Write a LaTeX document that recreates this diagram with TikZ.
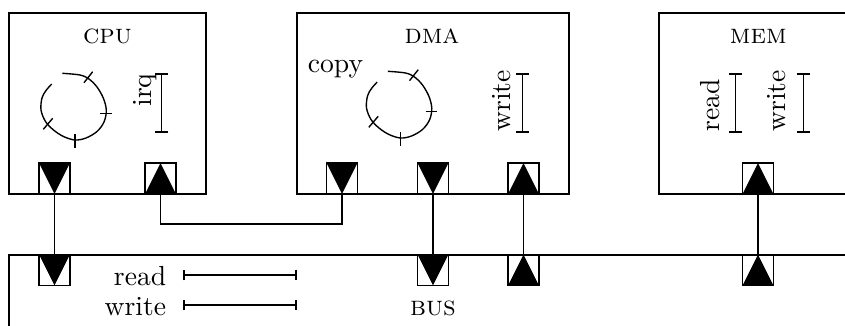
\documentclass[tikz,border=0pt]{standalone}
\usetikzlibrary{arrows.meta}
\begin{document}
\begin{tikzpicture}[x=0.3623pt,y=-0.3623pt,
  unitbox/.style={draw, line width=0.5pt},
  portbox/.style={draw, line width=0.5pt, minimum size=11.2pt, inner sep=0pt, outer sep=0pt},
  portdown/.style={portbox, path picture={\fill (path picture bounding box.north west) -- (path picture bounding box.north east) -- (path picture bounding box.south) -- cycle;}},
  portup/.style={portbox, path picture={\fill (path picture bounding box.south west) -- (path picture bounding box.south east) -- (path picture bounding box.north) -- cycle;}},
  wire/.style={line width=0.5pt},
  vbar/.style={{Bar[width=4.8pt]}-{Bar[width=4.8pt]}, line width=0.5pt},
  hbar/.style={{Bar[width=3.9pt]}-{Bar[width=3.9pt]}, line width=0.5pt},
  title/.style={inner sep=0pt, anchor=base, font=\scshape},
  rlbl/.style={inner sep=0pt, rotate=90}
]
\clip (0,0) rectangle (845,325);
% boxes
\draw[unitbox] (9,13) rectangle (206,194);
\draw[unitbox] (297,13) rectangle (569,194);
\draw[unitbox] (659,13) rectangle (880,194);
\draw[unitbox] (9,255) rectangle (880,345);
% titles
\node[title] (tcpu) at (107.5,43) {cpu};
\node[title] (tdma) at (432,43) {dma};
\node[title] (tmem) at (758.3,43) {mem};
\node[title] (tbus) at (433,315) {bus};
% ports
\node[portdown] (cpu1) at (54.5,178.5) {};
\node[portup]   (cpu2) at (160.5,178.5) {};
\node[portdown] (dma1) at (342,178.5) {};
\node[portdown] (dma2) at (433,178.5) {};
\node[portup]   (dma3) at (523.5,178.5) {};
\node[portup]   (mem1) at (758,178.5) {};
\node[portdown] (bus1) at (54.5,270) {};
\node[portdown] (bus2) at (433,270) {};
\node[portup]   (bus3) at (523.5,270) {};
\node[portup]   (bus4) at (758,270) {};
% connectors
\draw[wire] (cpu1.south) -- (bus1.north);
\draw[wire] (dma2.south) -- (bus2.north);
\draw[wire] (dma3.south) -- (bus3.north);
\draw[wire] (mem1.south) -- (bus4.north);
\draw[wire] (cpu2.south) -- ++(0,30) -| (dma1.south);
% loops
\foreach \dx/\dy in {0/0, 325.5/-2}{
\begin{scope}[shift={(\dx,\dy)}, line width=0.5pt]
\draw plot[smooth, tension=0.55] coordinates {(62.3,73.3) (80,75) (89,79) (97,87) (103.5,98.5) (106.3,110.5) (104,122) (97,131.5) (86,138) (75,140) (63.5,136.5) (53.5,130) (45.5,121.5) (41,110) (42,98) (46,90.5) (51.7,84)};
\draw (84,82.7) -- (92.7,71.7);
\draw (100,113.3) -- (111.7,113.3);
\draw (75,134) -- (75,148);
\draw (43.3,129.3) -- (52.7,118.3);
\end{scope}}
% copy label
\node[inner sep=0pt, anchor=base west] (copy) at (307.3,72) {copy};
% vertical interval bars and labels
\coordinate (irqa) at (161.7,73.3); \coordinate (irqb) at (161.7,132.7);
\draw[vbar] (irqa) -- (irqb);
\node[rlbl, anchor=base east] (irq) at (151,73) {irq};
\coordinate (dwa) at (522.7,73.3); \coordinate (dwb) at (522.7,132.7);
\draw[vbar] (dwa) -- (dwb);
\node[rlbl, anchor=base west] (dwrite) at (510.5,132) {write};
\coordinate (mra) at (735.7,73.3); \coordinate (mrb) at (735.7,132.7);
\draw[vbar] (mra) -- (mrb);
\node[rlbl, anchor=base west] (mread) at (719,132) {read};
\coordinate (mwa) at (803.3,73.3); \coordinate (mwb) at (803.3,132.7);
\draw[vbar] (mwa) -- (mwb);
\node[rlbl, anchor=base west] (mwrite) at (785.7,132) {write};
% bus interval bars
\node[inner sep=0pt, anchor=base east] (bread) at (166.7,285) {read};
\node[inner sep=0pt, anchor=base east] (bwrite) at (166.7,315) {write};
\coordinate (bra) at (183.3,275); \coordinate (brb) at (296.7,275);
\draw[hbar] (bra) -- (brb);
\coordinate (bwa) at (183.3,305); \coordinate (bwb) at (296.7,305);
\draw[hbar] (bwa) -- (bwb);
\end{tikzpicture}
\end{document}
